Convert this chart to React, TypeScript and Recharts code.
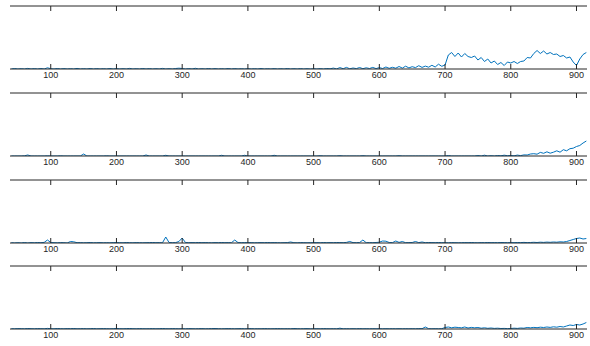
import { Line, LineChart, XAxis, YAxis } from 'recharts';

// sample positions shared by all four traces
const positions = [
  40, 45, 50, 55, 60, 65, 70, 75, 80, 85, 90, 95,
  100, 105, 110, 115, 120, 125, 130, 135, 140, 145, 150, 155, 160, 165, 170, 175, 180, 185, 190, 195,
  200, 205, 210, 215, 220, 225, 230, 235, 240, 245, 250, 255, 260, 265, 270, 275, 280, 285, 290, 295,
  300, 305, 310, 315, 320, 325, 330, 335, 340, 345, 350, 355, 360, 365, 370, 375, 380, 385, 390, 395,
  400, 405, 410, 415, 420, 425, 430, 435, 440, 445, 450, 455, 460, 465, 470, 475, 480, 485, 490, 495,
  500, 505, 510, 515, 520, 525, 530, 535, 540, 545, 550, 555, 560, 565, 570, 575, 580, 585, 590, 595,
  600, 605, 610, 615, 620, 625, 630, 635, 640, 645, 650, 655, 660, 665, 670, 675, 680, 685, 690, 695,
  700, 705, 710, 715, 720, 725, 730, 735, 740, 745, 750, 755, 760, 765, 770, 775, 780, 785, 790, 795,
  800, 805, 810, 815, 820, 825, 830, 835, 840, 845, 850, 855, 860, 865, 870, 875, 880, 885, 890, 895,
  900, 905, 910, 915,
];

const trace1 = [
  0, 0.5, 0, 0.3, 0, 0.6, 0, 0.4, 0, 0.5, 0, 1.2,
  0.3, 0, 0.5, 0, 0.4, 0, 0.3, 0, 0.6, 0, 0.3, 0, 0.5, 0, 0.4, 0, 0.3, 0, 0.5, 0,
  0.4, 0, 0.3, 0, 0.6, 0, 0.3, 0, 0.5, 0, 0.4, 0, 0.3, 0, 0.6, 0, 0.3, 0, 0.5, 0.8,
  0.5, 0, 0.4, 0, 0.7, 0, 0.3, 0, 0.5, 0, 0.4, 0, 0.3, 0, 0.5, 0, 0.4, 0, 0.3, 0,
  0.4, 0, 0.3, 0, 0.5, 0, 0.3, 0, 0.4, 0, 0.3, 0, 0.5, 0, 0.3, 0, 0.4, 0, 0.3, 0,
  0.3, 0, 0.4, 0, 0.5, 0.2, 0.9, 0.1, 1.4, 0.3, 1.6, 0.2, 1, 0.4, 1.5, 0.3, 1.2, 0.5, 1.6, 0.4,
  1.4, 0.5, 2, 0.7, 1.7, 0.8, 2.5, 0.9, 2.8, 1.1, 2.3, 1.4, 3.3, 1.6, 2.9, 1.8, 3.7, 2, 4.8, 2.7,
  4, 14, 16.5, 12.5, 16, 12, 15.5, 12.5, 11.5, 13, 9, 11.5, 7.5, 10, 6, 8, 4.5, 6.5, 3.5, 7,
  6, 7.5, 5.5, 7.5, 8, 11.5, 11, 15.5, 18.5, 15.5, 18, 15, 16.5, 14.5, 15, 12.5, 13.5, 11, 12, 7,
  3.5, 10, 14.5, 16.5,
];

const trace2 = [
  0, 0, 0, 0, 0.2, 1, 0, 0, 0, 0, 0, 0.2,
  0, 0, 0, 0.2, 0, 0, 0, 0, 0, 0, 2, 0, 0, 0, 0, 0, 0, 0.2, 0, 0,
  0, 0, 0, 0, 0, 0, 0, 0, 0, 1, 0, 0, 0, 0, 0, 0.7, 0, 0, 0, 0,
  0, 0, 0, 0, 0, 0, 0, 0, 0, 0, 0, 0, 0.7, 0, 0, 0, 0, 0, 0, 0.7,
  0, 0, 0, 0, 0, 0, 0, 0, 0.7, 0, 0, 0, 0, 0, 0, 0, 0, 0, 0, 0,
  0, 0, 0.3, 0, 0, 0, 0, 0, 0.3, 0, 0, 0, 0, 0, 0, 0.3, 0, 0, 0, 0,
  0, 0, 0, 0, 0, 0, 0.3, 0, 0, 0, 0, 0, 0, 0, 0, 0, 0, 0, 0, 0,
  0, 0.5, 0, 0, 0, 0, 0, 0, 0, 0, 0.5, 0, 0.8, 0, 0.3, 0, 0.5, 0.2, 0.8, 0.3,
  0.5, 0.2, 0.9, 0.4, 1.1, 1, 2, 2.3, 1.8, 3.6, 2.7, 4.2, 2.8, 3.8, 5.2, 3.8, 6.3, 5.2, 7.3, 7.8,
  9.5, 10.5, 13, 15,
];

const trace3 = [
  0.3, 0, 0.3, 0, 0.5, 0, 0.4, 0.2, 0.5, 0.3, 0.6, 3,
  0.5, 0.3, 0.2, 0.4, 0.3, 0, 1.5, 1.2, 0.3, 0.4, 0.2, 0.3, 0.5, 0.2, 0.3, 0.4, 0.2, 0.3, 0.2, 0.4,
  0.4, 0.3, 0.2, 0.5, 0.3, 0.2, 0.4, 0.3, 0.2, 0.3, 0.4, 0.5, 0.3, 0.4, 0.2, 6, 0.5, 0.3, 0.4, 1.5,
  5, 0.5, 0.3, 0.4, 0.3, 0.5, 0.3, 0.4, 0.3, 0.2, 0.4, 0.3, 0.5, 0.3, 0.4, 0.3, 3, 0.4, 0.3, 0.4,
  0.3, 0.4, 0.2, 0.3, 0.4, 0.3, 0.5, 0.3, 0.4, 0.3, 0.2, 0.3, 0.4, 1, 0.3, 0.2, 0.4, 0.3, 0.2, 0.3,
  0.3, 0.4, 0.2, 0.5, 0.3, 0.4, 0.3, 0.5, 0.4, 0.3, 0.6, 1.5, 0.4, 0.3, 0.5, 3, 0.3, 0.4, 0.3, 0.5,
  0.8, 2, 1.8, 0.5, 0.4, 2, 0.6, 1.5, 0.3, 0.4, 0.5, 1.5, 0.4, 1, 0.3, 0.5, 0.4, 0.3, 0.5, 0.3,
  0.3, 0.2, 0.4, 0.3, 0.2, 0.3, 0.4, 0.3, 0.5, 0.3, 0.2, 0.4, 0.3, 0.5, 0.3, 0.4, 0.3, 0.5, 0.4, 0.3,
  0.4, 0.3, 0.5, 0.4, 0.6, 0.4, 0.5, 0.7, 0.5, 0.8, 0.6, 0.9, 0.7, 1, 0.8, 1.2, 1, 1.5, 2.5, 3.5,
  4.5, 5, 4, 4.5,
];

const trace4 = [
  0.3, 0.2, 0.4, 0.3, 0.2, 0.5, 0.3, 0.2, 0.4, 0.3, 0.2, 0.6,
  0.3, 0.2, 0.5, 0.3, 0.2, 0.4, 0.3, 0.5, 0.2, 0.3, 0.4, 0.2, 0.3, 0.5, 0.2, 0.3, 0.4, 0.3, 0.2, 0.3,
  0.6, 0.3, 0.2, 0.4, 0.5, 0.3, 0.2, 0.4, 0.3, 0.2, 0.3, 0.4, 0.2, 0.3, 0.5, 0.3, 0.2, 0.4, 0.3, 0.2,
  0.3, 0.2, 0.4, 0.3, 0.2, 0.3, 0.4, 0.2, 0.3, 0.4, 0.5, 0.3, 0.2, 0.3, 0.4, 0.3, 0.2, 0.3, 0.4, 0.2,
  0.3, 0.4, 0.2, 0.3, 0.2, 0.4, 0.3, 0.2, 0.3, 0.4, 0.3, 0.2, 0.3, 0.2, 0.5, 0.3, 0.2, 0.3, 0.4, 0.2,
  0.2, 0.3, 0.2, 0.4, 0.3, 0.2, 0.3, 0.2, 0.8, 0.2, 0.3, 0.2, 0.3, 0.2, 0.4, 0.2, 0.3, 0.2, 0.3, 0.2,
  0.3, 0.2, 0.3, 0.2, 0.3, 0.2, 0.3, 0.2, 0.3, 0.2, 0.3, 0.2, 0.4, 0.3, 2, 0.3, 0.2, 0.3, 0.2, 0.3,
  1.5, 2, 1.2, 1.8, 1.5, 1.2, 2, 1, 1.6, 1.2, 1.5, 0.8, 1.2, 0.7, 1, 0.6, 0.8, 0.5, 0.6, 0.4,
  0.5, 0.8, 0.6, 1, 0.8, 1.5, 1.2, 1.6, 1.3, 1.8, 1.5, 2, 1.6, 2.2, 1.8, 2.5, 2, 3, 4, 3.5,
  4.5, 4, 5, 6.5,
];

const xTicks = [100, 200, 300, 400, 500, 600, 700, 800, 900];

const traces = [trace1, trace2, trace3, trace4];
const panelTops = [5, 92, 179, 265];

const AXIS = '#262626';
const X_DOMAIN = [38, 916];

function Panel({ values, top }: { values: number[]; top: number }) {
  const data = positions.map((x, i) => ({ x, v: values[i] }));
  return (
    <div style={{ position: 'absolute', left: 0, top }}>
      <LineChart width={590} height={82} data={data} margin={{ top: 0, right: 3, bottom: 0, left: 10 }}>
        <XAxis
          xAxisId="top"
          orientation="top"
          dataKey="x"
          type="number"
          domain={X_DOMAIN}
          ticks={xTicks}
          tick={() => <g />}
          tickSize={-5}
          height={1}
          stroke={AXIS}
          allowDataOverflow
        />
        <XAxis
          dataKey="x"
          type="number"
          domain={X_DOMAIN}
          ticks={xTicks}
          tickSize={-5}
          tickMargin={8}
          height={18}
          stroke={AXIS}
          allowDataOverflow
          tick={{ fontSize: 9, fill: AXIS, fontFamily: '"Liberation Sans", Arial, sans-serif' }}
        />
        <YAxis hide domain={[0, 63]} allowDataOverflow />
        <Line
          type="linear"
          dataKey="v"
          stroke="#0072BD"
          strokeWidth={1}
          dot={false}
          activeDot={false}
          isAnimationActive={false}
        />
      </LineChart>
    </div>
  );
}

export default function App() {
  return (
    <div style={{ position: 'absolute', left: 0, top: 0, width: 590, height: 346, background: '#fff' }}>
      {traces.map((t, i) => (
        <Panel key={i} values={t} top={panelTops[i]} />
      ))}
    </div>
  );
}
